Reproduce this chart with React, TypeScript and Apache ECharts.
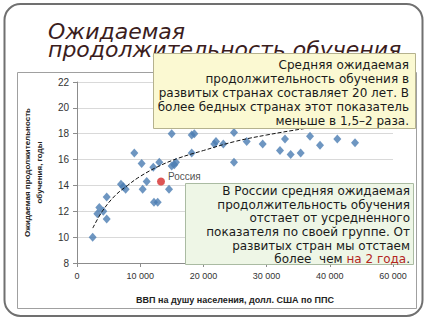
import React, { useEffect, useRef } from "react";
import * as echarts from "echarts";

const xTickLabels = ["0", "10 000", "20 000", "30 000", "40 000", "60 000"];

const gdp = [
  2480, 3220, 3530, 4160, 4700, 4700, 6960, 7330, 7700, 9070, 10230, 10390,
  11030, 12070, 13020, 12180, 12770, 14560, 14980, 14980, 15400, 15660, 18150,
  18560, 18150, 21720, 21990, 23150, 24840, 24840, 26850, 29380, 32120, 32910,
  33810, 35390, 36870, 38450, 41190, 43990,
];
const schooling = [
  10.0, 11.8, 12.3, 12.0, 13.1, 11.4, 14.1, 13.9, 13.7, 16.5, 15.7, 13.7, 14.3,
  15.4, 15.8, 12.7, 12.7, 13.7, 18.0, 15.5, 15.6, 15.8, 17.9, 18.0, 16.5, 17.2,
  17.4, 17.2, 18.1, 15.8, 17.4, 17.2, 16.7, 17.6, 16.4, 16.5, 17.8, 17.1, 17.6,
  17.3,
];

const russiaName = "Россия";
const russiaGdp = 13290;
const russiaSchooling = 14.3;

const trendGdp = [2500, 4000, 6000, 8000, 10000, 13000, 16000, 20000, 25000, 30000, 36000, 44000];
const trendSchooling = [10.7, 12.0, 13.2, 14.0, 14.7, 15.5, 16.1, 16.7, 17.4, 17.9, 18.4, 19.0];

const titleLine1 = "Ожидаемая";
const titleLine2 = "продолжительность обучения";
const xAxisTitle = "ВВП на душу населения, долл. США по ППС";
const yAxisTitle = "Ожидаемая продолжительность\nобучения, годы";
const noteDeveloped =
  "Средняя ожидаемая\nпродолжительность обучения в\nразвитых странах составляет 20 лет. В\nболее бедных странах этот показатель\nменьше в 1,5–2 раза.";
const noteRussia =
  "В России средняя ожидаемая\nпродолжительность обучения\nотстает от усредненного\nпоказателя по своей группе. От\nразвитых стран мы отстаем\nболее  чем {r|на 2 года}.";

export default function App() {
  const ref = useRef<HTMLDivElement>(null);

  useEffect(() => {
    if (!ref.current) return;
    const chart = echarts.init(ref.current, undefined, { renderer: "svg" });
    const axisFont = "Liberation Sans, Arial, sans-serif";
    const noteFont = "DejaVu Sans, sans-serif";
    chart.setOption({
      animation: false,
      backgroundColor: "#ffffff",
      grid: { left: 77, right: 34, top: 82, bottom: 57, containLabel: false },
      xAxis: {
        type: "value",
        min: 0,
        max: 50000,
        interval: 10000,
        name: xAxisTitle,
        nameLocation: "middle",
        nameGap: 32,
        nameTextStyle: { fontFamily: axisFont, fontWeight: "bold", fontSize: 9, color: "#222" },
        axisLine: { show: true, lineStyle: { color: "#8c8c8c" } },
        axisTick: { show: true, length: 4, lineStyle: { color: "#8c8c8c" } },
        axisLabel: {
          margin: 8,
          fontFamily: axisFont,
          fontSize: 9,
          color: "#333",
          formatter: (v: number) => xTickLabels[Math.round(v / 10000)] ?? "",
        },
        splitLine: { show: false },
      },
      yAxis: {
        type: "value",
        min: 8,
        max: 22,
        interval: 2,
        name: yAxisTitle,
        nameLocation: "middle",
        nameRotate: 90,
        nameGap: 44,
        nameTextStyle: {
          fontFamily: axisFont,
          fontWeight: "bold",
          fontSize: 8,
          color: "#222",
          lineHeight: 12,
          align: "center",
          verticalAlign: "middle",
        },
        axisLine: { show: true, lineStyle: { color: "#8c8c8c" } },
        axisTick: { show: true, length: 4, lineStyle: { color: "#8c8c8c" } },
        axisLabel: { margin: 8, fontFamily: axisFont, fontSize: 10, color: "#333" },
        splitLine: { show: true, lineStyle: { color: "#d9d9d9", width: 1 } },
      },
      series: [
        {
          type: "scatter",
          symbol: "diamond",
          symbolSize: [8, 9],
          itemStyle: { color: "#4a7cb2" },
          data: gdp.map((x, i) => [x, schooling[i]]),
          z: 2,
        },
        {
          type: "line",
          smooth: 0.4,
          showSymbol: false,
          lineStyle: { color: "#111", width: 1, type: [4, 2] },
          data: trendGdp.map((x, i) => [x, trendSchooling[i]]),
          z: 3,
        },
        {
          type: "scatter",
          symbol: "circle",
          symbolSize: 8,
          itemStyle: { color: "#d42a2a" },
          label: {
            show: true,
            position: "right",
            offset: [0, -5],
            distance: 3,
            formatter: () => russiaName,
            fontFamily: axisFont,
            fontSize: 10,
            color: "#222",
          },
          data: [[russiaGdp, russiaSchooling]],
          z: 4,
        },
      ],
      graphic: [
        {
          type: "rect",
          z: -10,
          shape: { x: 4.5, y: 4, width: 418, height: 312, r: 16 },
          style: { fill: "#ffffff", stroke: "#707070", lineWidth: 2 },
        },
        {
          type: "rect",
          z: -9,
          shape: { x: 17.5, y: 72.5, width: 399, height: 236 },
          style: { fill: "none", stroke: "#a0a0a0", lineWidth: 1 },
        },
        {
          type: "text",
          z: 5,
          x: 48,
          y: 20,
          style: {
            text: titleLine1,
            fill: "#3b1d1d",
            fontFamily: noteFont,
            fontStyle: "italic",
            fontSize: 22,
            lineHeight: 22,
            align: "left",
            verticalAlign: "top",
          },
        },
        {
          type: "text",
          z: 5,
          x: 48,
          y: 38,
          style: {
            text: titleLine2,
            fill: "#3b1d1d",
            fontFamily: noteFont,
            fontStyle: "italic",
            fontSize: 22,
            lineHeight: 22,
            align: "left",
            verticalAlign: "top",
          },
        },
        {
          type: "rect",
          z: 20,
          shape: { x: 153.5, y: 53.5, width: 262, height: 75 },
          style: { fill: "#fbf9d2", stroke: "#b5b28e", lineWidth: 1 },
        },
        {
          type: "text",
          z: 21,
          x: 409,
          y: 58,
          style: {
            text: noteDeveloped,
            fill: "#1a1a1a",
            fontFamily: noteFont,
            fontSize: 12,
            lineHeight: 14,
            align: "right",
            verticalAlign: "top",
          },
        },
        {
          type: "rect",
          z: 20,
          shape: { x: 185.5, y: 183.5, width: 228, height: 81 },
          style: { fill: "#eef6e6", stroke: "#aabba2", lineWidth: 1 },
        },
        {
          type: "text",
          z: 21,
          x: 410,
          y: 184,
          style: {
            text: noteRussia,
            fill: "#1a1a1a",
            fontFamily: noteFont,
            fontSize: 12,
            lineHeight: 13.7,
            align: "right",
            verticalAlign: "top",
            rich: {
              r: {
                fill: "#b3261e",
                fontFamily: noteFont,
                fontSize: 12,
                lineHeight: 13.7,
              },
            },
          },
        },
      ],
    });
    return () => chart.dispose();
  }, []);

  return (
    <div
      ref={ref}
      style={{ position: "absolute", left: 0, top: 0, width: 427, height: 320 }}
    />
  );
}
